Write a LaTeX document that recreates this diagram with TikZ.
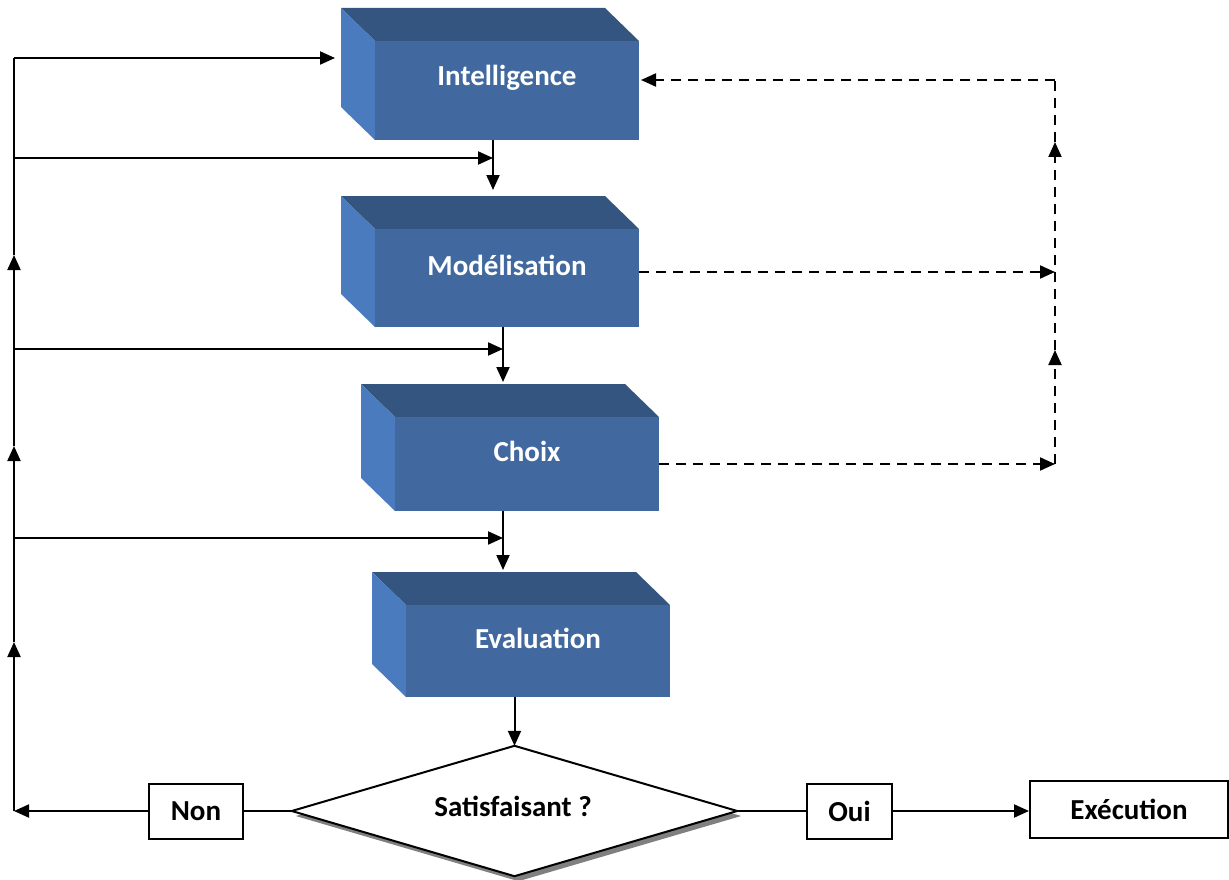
\documentclass[tikz,border=0pt]{standalone}
\usepackage{fontspec}
\setmainfont{Carlito}
\usetikzlibrary{arrows.meta,calc}
\definecolor{cubefront}{HTML}{41699F}
\definecolor{cubetop}{HTML}{34557F}
\definecolor{cubeside}{HTML}{4A7BBF}
\tikzset{
  line/.style={line width=2pt, black},
  arr/.style={line, -{Triangle[length=15pt,width=13pt]}},
  darr/.style={arr, dash pattern=on 10pt off 7pt},
  dline/.style={line, dash pattern=on 10pt off 7pt},
  cubebb/.style={rectangle, inner sep=0pt, outer sep=0pt},
  bigtext/.style={font=\fontsize{29}{33}\selectfont\bfseries},
  cubelabel/.style={bigtext, text=white},
  plainbox/.style={draw, line width=2pt, fill=white, inner sep=0pt, bigtext},
}
% #1 name, #2 left x, #3 top y, #4 front width, #5 front height, #6 label
\newcommand\cubebox[6]{%
  \node[cubebb, minimum width=#4+34, minimum height=#5+33, anchor=north west] (#1) at (#2,#3) {};
  \fill[cubetop] (#1.north west) -- ++(#4,0) -- ++(34,33) -- ++(-#4,0) -- cycle;
  \fill[cubeside] (#1.north west) -- ++(34,33) -- ++(0,#5) -- ++(-34,-33) -- cycle;
  \fill[cubefront] ($(#1.north west)+(34,33)$) rectangle ++(#4,#5);
  \node[cubelabel] (#1-text) at ($(#1.north west)+(34+#4/2,{(#5+33)/2+4})$) {#6};
}
\begin{document}
\begin{tikzpicture}[x=1pt,y=-1pt]
\useasboundingbox (0,0) rectangle (1229,880);

% the four stages
\cubebox{intel}{341}{8}{264}{99}{Intelligence}
\cubebox{model}{341}{196}{264}{98}{Modélisation}
\cubebox{choix}{361}{384}{264}{94}{Choix}
\cubebox{evalu}{372}{572}{264}{92}{Evaluation}

% decision diamond
\node[rectangle, minimum width=445pt, minimum height=130pt, inner sep=0pt] (dec) at (514.5,811) {};
\fill[black!50] ($(dec.west)+(4,5)$) -- ($(dec.north)+(4,5)$) -- ($(dec.east)+(4,5)$) -- ($(dec.south)+(4,5)$) -- cycle;
\draw[line, fill=white, line join=miter] (dec.west) -- (dec.north) -- (dec.east) -- (dec.south) -- cycle;
\node[bigtext] (dectext) at (513,806) {Satisfaisant ?};

% outcome boxes
\node[plainbox, minimum width=94pt, minimum height=55pt] (non) at (196,811) {Non};
\node[plainbox, minimum width=85pt, minimum height=55pt] (oui) at (849.5,811) {Oui};
\node[plainbox, minimum width=198pt, minimum height=57pt] (exec) at (1129,809.5) {Exécution};

% main downward flow
\draw[arr] ([xshift=3pt]intel.south) -- ([xshift=3pt,yshift=6pt]intel.south |- model.north);
\draw[arr] ([xshift=13pt]model.south) -- ([xshift=13pt,yshift=2pt]model.south |- choix.north);
\draw[arr] ([xshift=-7pt]choix.south) -- ([xshift=-7pt,yshift=2pt]choix.south |- evalu.north);
\draw[arr] (evalu.south -| dec.north) -- (dec.north);

% outcomes
\coordinate (lbot) at (14,811);
\draw[line] (dec.west) -- (non.east);
\draw[arr] (non.west) -- (lbot);
\draw[line] (dec.east) -- (oui.west);
\draw[arr] (oui.east) -- (oui.east -| exec.west);

% feedback loop on the left
\coordinate (l1) at (14,642);
\coordinate (l2) at (14,446);
\coordinate (l3) at (14,255);
\coordinate (ltop) at (14,58);
\draw[arr] (lbot) -- (l1);
\draw[arr] (l1) -- (l2);
\draw[arr] (l2) -- (l3);
\draw[line] (l3) -- (ltop);
\draw[arr] (ltop) -- ([xshift=-6pt]intel.west |- ltop);

\coordinate (b1) at (14,158);
\coordinate (b2) at (14,349);
\coordinate (b3) at (14,538);
\draw[arr] (b1) -- ([xshift=3pt]intel.south |- b1);
\draw[arr] (b2) -- ([xshift=13pt]model.south |- b2);
\draw[arr] (b3) -- ([xshift=-7pt]choix.south |- b3);

% dashed feedback on the right
\coordinate (rtop) at (1055,80);
\coordinate (r1) at (1055,142);
\coordinate (r2) at (1055,272);
\coordinate (r3) at (1055,350);
\coordinate (r4) at (1055,464);
\draw[darr] (model.east |- r2) -- (r2);
\draw[darr] (choix.east |- r4) -- (r4);
\draw[darr] (r4) -- (r3);
\draw[darr] (r3) -- (r1);
\draw[dline] (r1) -- (rtop);
\draw[darr] (rtop) -- ([xshift=2pt]intel.east |- rtop);
\end{tikzpicture}
\end{document}
